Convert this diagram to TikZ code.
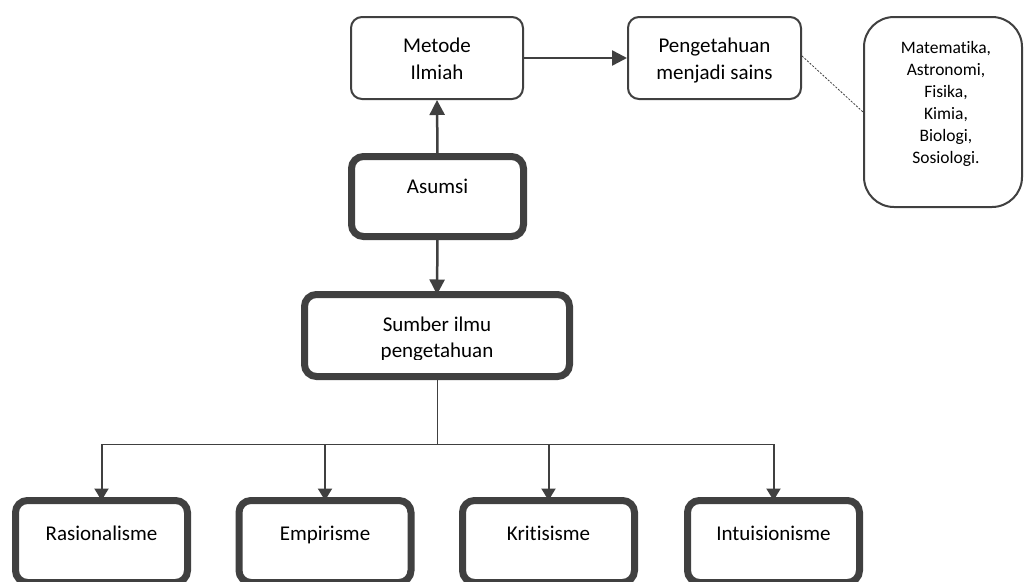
\documentclass[tikz,border=0pt]{standalone}
\usepackage{fontspec}
\setmainfont{Carlito}[Ligatures=NoCommon]
\usetikzlibrary{arrows.meta,calc}
\definecolor{lc}{HTML}{404040}
\tikzset{
  thinbox/.style={draw=lc, line width=2pt, rounded corners=11pt, inner sep=0pt},
  thickbox/.style={draw=lc, line width=7pt, rounded corners=12pt, inner sep=0pt},
  txt/.style={inner sep=0pt, font=\fontsize{21}{27}\selectfont, align=center},
  smalltxt/.style={inner sep=0pt, font=\fontsize{17.5}{22}\selectfont, align=center},
  bigarrow/.style={draw=lc, line width=2.5pt, -{Triangle[length=15pt,width=15pt]}},
  midarrow/.style={draw=lc, line width=2pt, -{Triangle[length=12pt,width=14pt]}},
  thinline/.style={draw=lc, line width=1pt},
}
\begin{document}
\begin{tikzpicture}[x=1pt,y=-1pt]
\clip (0,0) rectangle (1024,581);
\fill[white] (0,0) rectangle (1024,581);
% boxes
\node[thinbox, minimum width=172pt, minimum height=82pt] (metode) at (437,58) {};
\node[thinbox, minimum width=173pt, minimum height=82pt] (peng) at (714.5,58) {};
\node[thinbox, rounded corners=30pt, minimum width=158pt, minimum height=190pt] (sains) at (943,112) {};
\node[thickbox, minimum width=172pt, minimum height=80pt] (asumsi) at (437.5,196.5) {};
\node[thickbox, minimum width=265pt, minimum height=82pt] (sumber) at (437,335.5) {};
\node[thickbox, minimum width=172pt, minimum height=82pt] (ras) at (101.5,541.5) {};
\node[thickbox, minimum width=172pt, minimum height=82pt] (emp) at (325,541.5) {};
\node[thickbox, minimum width=172pt, minimum height=82pt] (krit) at (548.5,541.5) {};
\node[thickbox, minimum width=172pt, minimum height=82pt] (intu) at (773.5,541.5) {};
% texts
\node[txt, anchor=base] (tmetode) at (437,52) {Metode};
\node[txt, anchor=base] (tilmiah) at (437,79) {Ilmiah};
\node[txt, anchor=base] (tpeng1) at (714.5,52.5) {Pengetahuan};
\node[txt, anchor=base] (tpeng2) at (714.5,79) {menjadi sains};
\node[smalltxt, anchor=base] (tsains1) at (946,53) {Matematika,};
\node[smalltxt, anchor=base] (tsains2) at (946,75) {Astronomi,};
\node[smalltxt, anchor=base] (tsains3) at (946,97) {Fisika,};
\node[smalltxt, anchor=base] (tsains4) at (946,119) {Kimia,};
\node[smalltxt, anchor=base] (tsains5) at (946,141) {Biologi,};
\node[smalltxt, anchor=base] (tsains6) at (946,163) {Sosiologi.};
\node[txt, anchor=base] (tasumsi) at (437.5,193) {Asumsi};
\node[txt, anchor=base] (tsumber1) at (437,331) {Sumber ilmu};
\begin{scope}
\clip (300,340) rectangle (575,359.5);
\node[txt, anchor=base] (tsumber2) at (437,357) {pengetahuan};
\end{scope}
\node[txt, anchor=base] (tras) at (101.5,540) {Rasionalisme};
\node[txt, anchor=base] (temp) at (325,540) {Empirisme};
\node[txt, anchor=base] (tkrit) at (548.5,540) {Kritisisme};
\node[txt, anchor=base] (tintu) at (773.5,540) {Intuisionisme};
% connectors
\draw[bigarrow] (metode.east) -- (peng.west);
\draw[bigarrow] ([yshift=-3.5pt]asumsi.north) -- (metode.south);
\draw[bigarrow] ([yshift=3.5pt]asumsi.south) -- ([yshift=-3.5pt]sumber.north);
\draw[lc, line width=0.8pt, dash pattern=on 2pt off 1.5pt] ([yshift=2pt]peng.east) -- (sains.west);
\coordinate (hub) at (437,444);
\coordinate (hl) at (101.5,444);
\coordinate (hr) at (773.5,444);
\draw[thinline] ([yshift=3.5pt]sumber.south) -- (hub);
\draw[thinline] (hl) -- (hr);
\draw[midarrow] (hl) -- ([yshift=-3.5pt]ras.north);
\draw[midarrow] (325,444) -- ([yshift=-3.5pt]emp.north);
\draw[midarrow] (548.5,444) -- ([yshift=-3.5pt]krit.north);
\draw[midarrow] (hr) -- ([yshift=-3.5pt]intu.north);
\end{tikzpicture}
\end{document}
